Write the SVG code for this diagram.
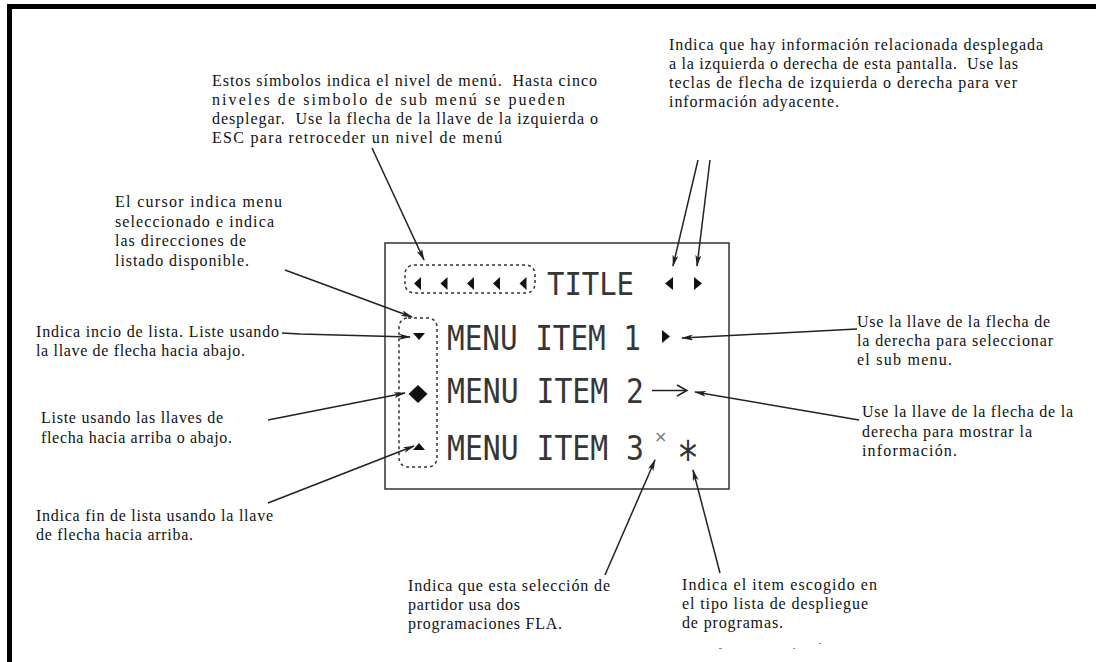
<svg xmlns="http://www.w3.org/2000/svg" width="1096" height="662" viewBox="0 0 1096 662">
<style>
.t{font-family:"Liberation Serif","Times New Roman",serif;font-size:16px;fill:#111;white-space:pre}
.lcd{font-family:"DejaVu Sans Mono",monospace;font-size:30px;fill:#363636}
.c{stroke:#222;stroke-width:1.5;fill:none;marker-end:url(#ah)}
.dot{fill:none;stroke:#333;stroke-width:1.5;stroke-dasharray:3 3}
.sym{fill:#111}
</style>
<defs>
<marker id="ah" markerUnits="userSpaceOnUse" markerWidth="12" markerHeight="6" refX="11" refY="3" orient="auto">
<path d="M0,0 L12,3 L0,6 L3,3 z" fill="#222"/>
</marker>
</defs>
<rect width="1096" height="662" fill="#fff"/>
<g id="frame">
<rect x="7" y="4" width="1089" height="5" fill="#000"/>
<rect x="7" y="4" width="5" height="658" fill="#000"/>
</g>
<g id="screen">
<rect x="385" y="243" width="344" height="246" fill="none" stroke="#333" stroke-width="1.5"/>
<rect class="dot" x="405" y="265" width="130" height="28" rx="9"/>
<rect class="dot" x="399" y="318" width="38" height="149" rx="9"/>
<g class="sym">
<polygon points="414,283.5 421,277 421,290"/>
<polygon points="440.5,283.5 447.5,277 447.5,290"/>
<polygon points="467,283.5 474,277 474,290"/>
<polygon points="493,283.5 500,277 500,290"/>
<polygon points="519.5,283.5 526.5,277 526.5,290"/>
<polygon points="665,283.5 673,277 673,290"/>
<polygon points="702,283.5 694,277 694,290"/>
<polygon points="670,336.5 662,330 662,343"/>
<polygon points="413,333 425,333 419,340"/>
<polygon points="413,450 425,450 419,443"/>
<polygon points="418,385 427.5,394 418,403 408.5,394"/>
</g>
<text class="lcd" transform="translate(547,295) scale(1,1.08)" textLength="87" lengthAdjust="spacingAndGlyphs">TITLE</text>
<text class="lcd" transform="translate(447,350) scale(1,1.13)" textLength="194" lengthAdjust="spacingAndGlyphs">MENU ITEM 1</text>
<text class="lcd" transform="translate(447,403) scale(1,1.13)" textLength="197" lengthAdjust="spacingAndGlyphs">MENU ITEM 2</text>
<text class="lcd" transform="translate(447,460) scale(1,1.13)" textLength="197" lengthAdjust="spacingAndGlyphs">MENU ITEM 3</text>
<g stroke="#222" stroke-width="1.5" fill="none">
<line x1="652" y1="390.5" x2="686" y2="390.5"/>
<polyline points="677,385 687,390.5 677,396"/>
</g>
<text x="654" y="442" font-family="DejaVu Sans,sans-serif" font-size="16" fill="#777">×</text>
<text x="677" y="474" font-family="DejaVu Sans Mono,monospace" font-size="46" fill="#333" textLength="22" lengthAdjust="spacingAndGlyphs">*</text>
</g>
<g id="connectors">
<line class="c" x1="372" y1="148" x2="424" y2="260"/>
<line class="c" x1="285" y1="270" x2="412" y2="317"/>
<polyline class="c" points="282,333 300,334 410,337"/>
<line class="c" x1="268" y1="420" x2="405" y2="393"/>
<line class="c" x1="268" y1="503" x2="414" y2="446"/>
<line class="c" x1="698" y1="160" x2="673" y2="266"/>
<line class="c" x1="710" y1="160" x2="697" y2="266"/>
<line class="c" x1="857" y1="329" x2="682" y2="338"/>
<line class="c" x1="859" y1="420" x2="695" y2="392"/>
<line class="c" x1="605" y1="575" x2="655" y2="460"/>
<line class="c" x1="720" y1="573" x2="693" y2="470"/>
</g>
<g id="label-menu-level">
<text class="t" x="212" y="86" textLength="385">Estos símbolos indica el nivel de menú.  Hasta cinco</text>
<text class="t" x="212" y="105" textLength="353">niveles de simbolo de sub menú se pueden</text>
<text class="t" x="212" y="124" textLength="386">desplegar.  Use la flecha de la llave de la izquierda o</text>
<text class="t" x="212" y="143" textLength="290">ESC para retroceder un nivel de menú</text>
</g>
<g id="label-related-info">
<text class="t" x="669" y="50" textLength="374">Indica que hay información relacionada desplegada</text>
<text class="t" x="669" y="69" textLength="349">a la izquierda o derecha de esta pantalla.  Use las</text>
<text class="t" x="669" y="88" textLength="348">teclas de flecha de izquierda o derecha para ver</text>
<text class="t" x="669" y="107" textLength="170">información adyacente.</text>
</g>
<g id="label-cursor">
<text class="t" x="115" y="207" textLength="167">El cursor indica menu</text>
<text class="t" x="115" y="227" textLength="159">seleccionado e indica</text>
<text class="t" x="115" y="246" textLength="131">las direcciones de</text>
<text class="t" x="115" y="266" textLength="134">listado disponible.</text>
</g>
<g id="label-list-start">
<text class="t" x="36" y="337" textLength="243">Indica incio de lista. Liste usando</text>
<text class="t" x="36" y="356" textLength="209">la llave de flecha hacia abajo.</text>
</g>
<g id="label-list-middle">
<text class="t" x="41" y="423" textLength="182">Liste usando las llaves de</text>
<text class="t" x="41" y="443" textLength="191">flecha hacia arriba o abajo.</text>
</g>
<g id="label-list-end">
<text class="t" x="36" y="521" textLength="237">Indica fin de lista usando la llave</text>
<text class="t" x="36" y="540" textLength="157">de flecha hacia arriba.</text>
</g>
<g id="label-submenu">
<text class="t" x="857" y="327" textLength="193">Use la llave de la flecha de</text>
<text class="t" x="857" y="346" textLength="196">la derecha para seleccionar</text>
<text class="t" x="857" y="365" textLength="95">el sub menu.</text>
</g>
<g id="label-show-info">
<text class="t" x="862" y="417" textLength="211">Use la llave de la flecha de la</text>
<text class="t" x="862" y="437" textLength="170">derecha para mostrar la</text>
<text class="t" x="862" y="456" textLength="95">información.</text>
</g>
<g id="label-fla">
<text class="t" x="408" y="591" textLength="202">Indica que esta selección de</text>
<text class="t" x="408" y="610" textLength="112">partidor usa dos</text>
<text class="t" x="408" y="629" textLength="154">programaciones FLA.</text>
</g>
<g id="label-chosen-item">
<text class="t" x="682" y="590" textLength="195">Indica el item escogido en</text>
<text class="t" x="682" y="609" textLength="186">el tipo lista de despliegue</text>
<text class="t" x="682" y="628" textLength="101">de programas.</text>
</g>
<g id="specks" fill="#888">
<rect x="719" y="648" width="3" height="1"/>
<rect x="793" y="648" width="2" height="1"/>
<rect x="819" y="643" width="2" height="1"/>
</g>
</svg>
